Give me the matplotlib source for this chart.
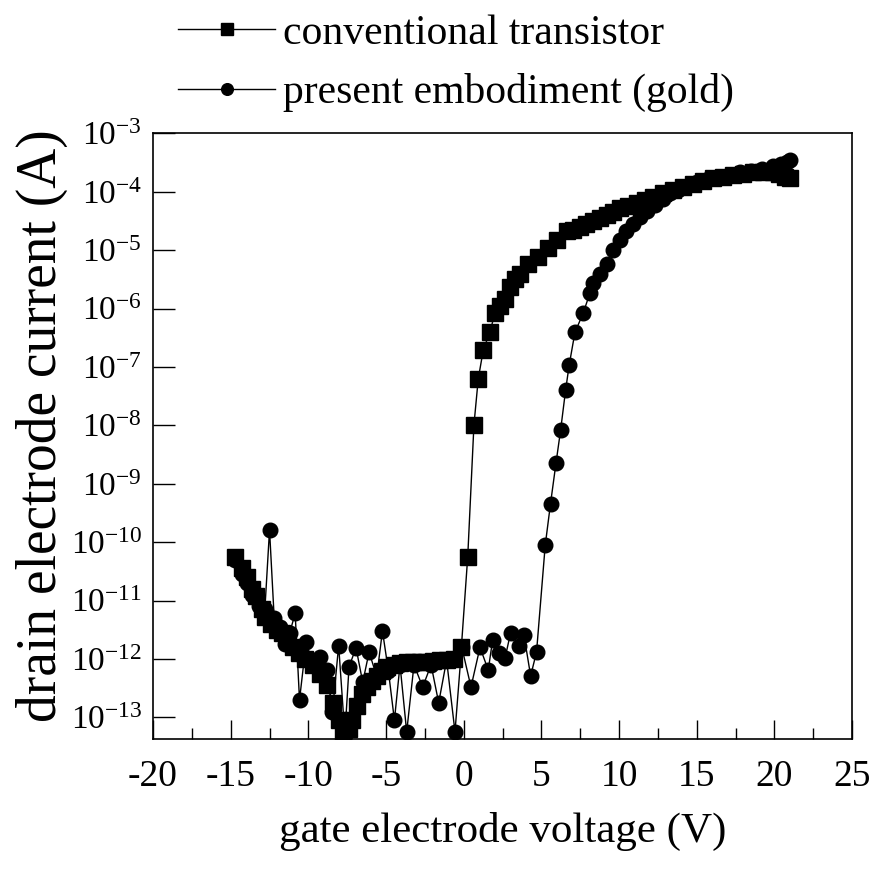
import matplotlib
matplotlib.use("Agg")
import matplotlib.pyplot as plt
import numpy as np

# gate voltage (V) and log10 of drain current (A)
conv_vg = [-14.7, -14.3, -13.95, -13.6, -13.4, -13.0, -12.8, -12.4, -12.0, -11.7,
           -11.4, -11.0, -10.6, -10.2, -9.7, -9.25, -8.8, -8.4, -8.0, -7.75,
           -7.4, -7.2, -6.9, -6.55, -6.25, -5.9, -5.6, -5.25, -4.95, -4.5,
           -4.1, -3.65, -3.25, -2.8, -2.4, -1.95, -1.5, -1.1, -0.65, -0.15,
           0.26, 0.66, 0.94, 1.26, 1.69, 2.01, 2.35, 2.66, 2.98, 3.3,
           3.62, 4.15, 4.8, 5.44, 5.98, 6.62, 7.05, 7.48, 7.9, 8.34,
           8.8, 9.2, 9.6, 10.05, 10.6, 11.13, 11.65, 12.19, 12.8, 13.48,
           14.1, 14.77, 15.4, 16.05, 16.7, 17.34, 18.0, 18.62, 19.3, 19.91,
           20.3, 20.66, 21.0]
conv_logid = [-10.25, -10.45, -10.6, -10.8, -10.93, -11.15, -11.28, -11.4, -11.5, -11.55,
              -11.62, -11.8, -11.9, -12.0, -12.1, -12.25, -12.45, -12.75, -13.05, -13.3,
              -13.2, -13.05, -12.8, -12.6, -12.48, -12.38, -12.3, -12.2, -12.13, -12.1,
              -12.07, -12.06, -12.05, -12.05, -12.05, -12.04, -12.02, -12.02, -12.0, -11.8,
              -10.25, -7.99, -7.2, -6.71, -6.40, -6.08, -5.95, -5.83, -5.63, -5.5,
              -5.40, -5.23, -5.11, -4.97, -4.83, -4.68, -4.65, -4.60, -4.55, -4.50,
              -4.45, -4.40, -4.34, -4.28, -4.24, -4.20, -4.14, -4.09, -4.03, -3.97,
              -3.92, -3.86, -3.82, -3.77, -3.74, -3.71, -3.69, -3.67, -3.66, -3.66,
              -3.7, -3.74, -3.77]

gold_vg = [-14.7, -14.3, -13.95, -13.6, -13.2, -12.8, -12.5, -12.2, -11.85, -11.5,
           -11.2, -10.85, -10.57, -10.14, -9.7, -9.24, -8.81, -8.45, -8.05, -7.65,
           -7.38, -6.93, -6.5, -6.09, -5.6, -5.23, -4.85, -4.46, -4.1, -3.67,
           -3.2, -2.64, -2.1, -1.61, -1.1, -0.56, -0.13, 0.47, 1.05, 1.58,
           1.86, 2.3, 2.66, 3.02, 3.57, 3.88, 4.31, 4.69, 5.25, 5.59,
           5.94, 6.24, 6.56, 6.79, 7.16, 7.69, 8.12, 8.34, 8.76, 9.2,
           9.62, 10.05, 10.47, 10.9, 11.33, 11.8, 12.3, 12.8, 13.3, 13.8,
           14.4, 15.0, 15.7, 16.4, 17.1, 17.8, 18.5, 19.2, 19.9, 20.4,
           20.8, 21.0]
gold_logid = [-10.3, -10.55, -10.7, -10.9, -11.1, -11.15, -9.79, -11.3, -11.45, -11.75,
              -11.55, -11.22, -12.70, -11.71, -12.1, -11.96, -12.19, -12.9, -11.77, -13.3,
              -12.13, -11.81, -12.4, -11.88, -12.3, -11.52, -12.2, -13.05, -12.1, -13.25,
              -12.1, -12.48, -12.1, -12.75, -12.02, -13.25, -11.79, -12.48, -11.8, -12.19,
              -11.68, -11.9, -11.99, -11.55, -11.78, -11.59, -12.29, -11.88, -10.05, -9.34,
              -8.65, -8.08, -7.40, -6.97, -6.41, -6.08, -5.74, -5.57, -5.40, -5.23,
              -5.0, -4.83, -4.68, -4.55, -4.43, -4.33, -4.22, -4.12, -4.03, -3.97,
              -3.9, -3.84, -3.79, -3.75, -3.71, -3.67, -3.64, -3.61, -3.56, -3.52,
              -3.49, -3.46]

xticks = [-20, -15, -10, -5, 0, 5, 10, 15, 20, 25]
ydecades = list(range(-13, -2))

serif = "Liberation Serif"
plt.rcParams["font.family"] = serif
plt.rcParams["mathtext.fontset"] = "custom"
plt.rcParams["mathtext.rm"] = serif
plt.rcParams["mathtext.it"] = serif

fig = plt.figure(figsize=(8.71, 8.76), dpi=100)
ax = fig.add_axes([0.1757, 0.1564, 0.8025, 0.6914])

ax.plot(conv_vg, 10.0 ** np.array(conv_logid), color="k", lw=1.0,
        marker="s", ms=11, mfc="k", mec="k", label="conventional transistor")
ax.plot(gold_vg, 10.0 ** np.array(gold_logid), color="k", lw=1.0,
        marker="o", ms=10.5, mfc="k", mec="k", label="present embodiment (gold)")

ax.set_yscale("log")
ax.set_xlim(-20, 25)
ax.set_ylim(10 ** -13.37, 1e-3)

ax.set_xticks(xticks)
ax.set_xticks(np.arange(-17.5, 25, 5), minor=True)
ax.set_xticklabels([str(t) for t in xticks])
ax.set_yticks([10.0 ** d for d in ydecades])
ax.set_yticklabels([r"$10^{%d}$" % d for d in ydecades])
ax.yaxis.set_minor_locator(matplotlib.ticker.NullLocator())

ax.tick_params(axis="x", which="major", direction="in", length=14, width=1,
               labelsize=27, pad=15, top=False)
ax.tick_params(axis="x", which="minor", direction="in", length=8, width=1, top=False)
ax.tick_params(axis="y", which="major", direction="in", length=16, width=1,
               labelsize=24, pad=8, right=False)
for s in ax.spines.values():
    s.set_linewidth(1.2)

ax.set_xlabel("gate electrode voltage (V)", fontsize=31)
ax.xaxis.set_label_coords(0.5, -0.121)
ax.set_ylabel("drain electrode current (A)", fontsize=40)
ax.yaxis.set_label_coords(-0.122, 0.518)

fig.legend(loc="upper left", bbox_to_anchor=(178 / 871, 1 - 14 / 876), frameon=False,
           fontsize=30, handlelength=2.33, handletextpad=0.2,
           labelspacing=0.5, markerscale=0.8, borderpad=0, borderaxespad=0)

fig.savefig("out.png", dpi=100)
